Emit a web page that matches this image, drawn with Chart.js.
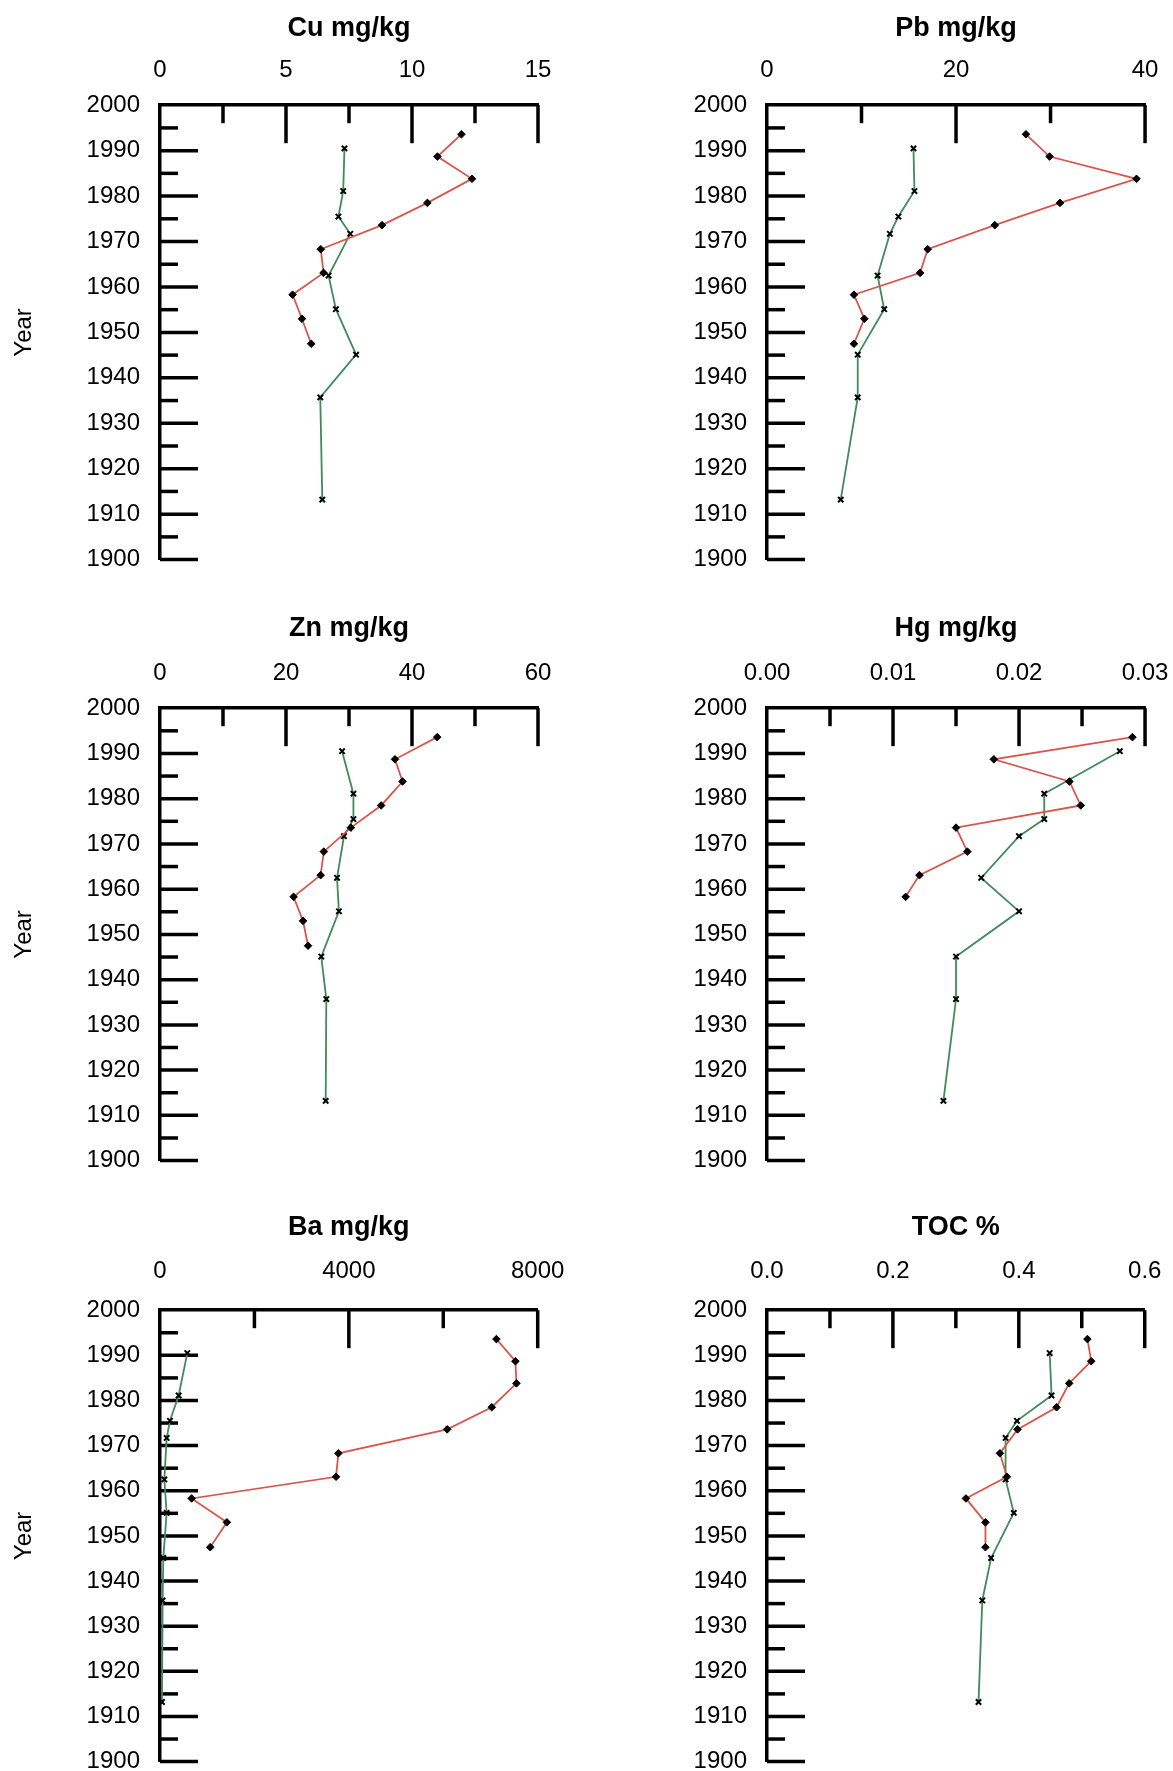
<!DOCTYPE html>
<html>
<head>
<meta charset="utf-8">
<script src="https://cdn.jsdelivr.net/npm/chart.js@4.4.1/dist/chart.umd.min.js"></script>
<style>
  html, body { margin: 0; padding: 0; background: #fff; overflow: hidden; }
  #page { position: relative; width: 1173px; height: 1771px; overflow: hidden; }
  #page canvas { position: absolute; }
</style>
</head>
<body>
<div id="page"></div>
<script>
// sampling years of the two cores (red = diamonds, green = crosses)
const redYears = [1993.6, 1988.7, 1983.8, 1978.5, 1973.6, 1968.3, 1963.1, 1958.3, 1953.0, 1947.5];
const greenYears = [1990.5, 1981.1, 1975.5, 1971.7, 1962.5, 1955.1, 1945.1, 1935.7, 1913.2];
const yearTicks = [2000, 1990, 1980, 1970, 1960, 1950, 1940, 1930, 1920, 1910, 1900];

const cuRed = [11.96, 11.01, 12.38, 10.61, 8.81, 6.38, 6.49, 5.26, 5.63, 6.0];
const cuGreen = [7.32, 7.27, 7.08, 7.55, 6.69, 6.98, 7.78, 6.36, 6.44];
const cuTicks = [0, 5, 10, 15];

const pbRed = [27.4, 29.9, 39.1, 31.0, 24.1, 17.0, 16.2, 9.2, 10.3, 9.2];
const pbGreen = [15.5, 15.6, 13.9, 13.0, 11.7, 12.4, 9.6, 9.6, 7.8];
const pbTicks = [0, 20, 40];

const znRed = [44.0, 37.3, 38.5, 35.1, 30.3, 26.0, 25.5, 21.2, 22.7, 23.5];
const znGreen = [28.9, 30.7, 30.7, 29.2, 28.1, 28.4, 25.6, 26.4, 26.3];
const znTicks = [0, 20, 40, 60];

const hgRed = [0.0290, 0.0180, 0.0240, 0.0249, 0.0150, 0.0159, 0.0121, 0.0110];
const hgGreen = [0.0280, 0.0220, 0.0220, 0.0200, 0.0170, 0.0200, 0.0150, 0.0150, 0.0140];
const hgTicks = [0, 0.01, 0.02, 0.03];

const baRed = [7126, 7528, 7549, 7027, 6083, 3778, 3729, 670, 1417, 1064];
const baGreen = [578, 395, 211, 141, 92, 141, 70, 56, 42];
const baTicks = [0, 4000, 8000];

const tocRed = [0.509, 0.515, 0.480, 0.460, 0.398, 0.370, 0.381, 0.316, 0.347, 0.347];
const tocGreen = [0.449, 0.452, 0.397, 0.379, 0.379, 0.392, 0.356, 0.342, 0.336];
const tocTicks = [0, 0.2, 0.4, 0.6];

const FONT = "'Liberation Sans', Arial, sans-serif";
Chart.defaults.font.family = FONT;
Chart.defaults.color = "#000";

const panels = [
    { title: "Cu mg/kg", ticks: cuTicks, dec: 0, red: cuRed, green: cuGreen, col: 0, row: 0 },
    { title: "Pb mg/kg", ticks: pbTicks, dec: 0, red: pbRed, green: pbGreen, col: 1, row: 0 },
    { title: "Zn mg/kg", ticks: znTicks, dec: 0, red: znRed, green: znGreen, col: 0, row: 1 },
    { title: "Hg mg/kg", ticks: hgTicks, dec: 2, red: hgRed, green: hgGreen, col: 1, row: 1 },
    { title: "Ba mg/kg", ticks: baTicks, dec: 0, red: baRed, green: baGreen, col: 0, row: 2 },
    { title: "TOC %", ticks: tocTicks, dec: 1, red: tocRed, green: tocGreen, col: 1, row: 2 }
];

// where each plot area should land on the page
const areaLeft = [160, 767];
const areaTop = [105, 708.5, 1310.5];
const areaHeight = [454, 452, 451];
const titleGap = [77, 80, 83];       // title centre to top axis
const labelPad = [20.6, 20.6, 24.6]; // top tick labels to axis
const AREA_W = 378;
const AXIS_W = 160;
const TITLE_SIZE = 27;

function midpoints(values) {
    const s = [...values].sort((a, b) => a - b);
    const out = [];
    for (let i = 1; i < s.length; i++) out.push((s[i - 1] + s[i]) / 2);
    return out;
}

function toPoints(xs, ys) {
    return xs.map((v, i) => ({ x: v, y: ys[i] }));
}

// tick marks point into the plot: long at labelled values, short halfway between
const insideTicks = {
    id: "insideTicks",
    beforeDatasetsDraw(chart, args, opts) {
        const ctx = chart.ctx;
        const area = chart.chartArea;
        const xs = chart.scales.x;
        const ys = chart.scales.y;
        ctx.save();
        ctx.strokeStyle = "#000";
        ctx.lineWidth = 3.5;
        ctx.lineCap = "butt";
        const seg = (x1, y1, x2, y2) => {
            ctx.beginPath();
            ctx.moveTo(x1, y1);
            ctx.lineTo(x2, y2);
            ctx.stroke();
        };
        opts.xLong.forEach(v => {
            const px = xs.getPixelForValue(v);
            seg(px, area.top, px, area.top + 38);
        });
        opts.xShort.forEach(v => {
            const px = xs.getPixelForValue(v);
            seg(px, area.top, px, area.top + 18);
        });
        opts.yLong.forEach(v => {
            const py = ys.getPixelForValue(v);
            seg(area.left, py, area.left + 38, py);
        });
        opts.yShort.forEach(v => {
            const py = ys.getPixelForValue(v);
            seg(area.left, py, area.left + 18, py);
        });
        ctx.restore();
    }
};

function makeChart(canvas, p, titlePadBottom, padRight) {
    const xMin = p.ticks[0];
    const xMax = p.ticks[p.ticks.length - 1];
    return new Chart(canvas, {
        type: "scatter",
        data: {
            datasets: [
                {
                    data: toPoints(p.red, redYears),
                    showLine: true,
                    borderColor: "#d8574c",
                    borderWidth: 1.8,
                    tension: 0,
                    pointStyle: "rectRot",
                    pointRadius: 3.8,
                    pointBackgroundColor: "#000",
                    pointBorderColor: "#000",
                    pointBorderWidth: 1,
                    clip: false
                },
                {
                    data: toPoints(p.green, greenYears),
                    showLine: true,
                    borderColor: "#3f8c58",
                    borderWidth: 1.8,
                    tension: 0,
                    pointStyle: "crossRot",
                    pointRadius: 3.8,
                    pointBorderColor: "#000",
                    pointBorderWidth: 2,
                    clip: false
                }
            ]
        },
        options: {
            responsive: false,
            maintainAspectRatio: false,
            animation: false,
            layout: { padding: { left: 0, top: 0, right: padRight, bottom: 4 } },
            plugins: {
                legend: { display: false },
                tooltip: { enabled: false },
                title: {
                    display: true,
                    text: p.title,
                    fullSize: false,
                    font: { size: TITLE_SIZE, weight: "bold", family: FONT },
                    color: "#000",
                    padding: { top: 0, bottom: titlePadBottom }
                },
                insideTicks: {
                    xLong: p.ticks.slice(1),
                    xShort: midpoints(p.ticks),
                    yLong: yearTicks.slice(1),
                    yShort: midpoints(yearTicks)
                }
            },
            scales: {
                x: {
                    type: "linear",
                    position: "top",
                    min: xMin,
                    max: xMax,
                    afterBuildTicks: s => { s.ticks = p.ticks.map(v => ({ value: v })); },
                    grid: { display: false, drawTicks: false },
                    border: { display: true, color: "#000", width: 3.5 },
                    ticks: {
                        font: { size: 24 },
                        padding: labelPad[p.row],
                        maxRotation: 0,
                        autoSkip: false,
                        callback: v => Number(v).toFixed(p.dec)
                    }
                },
                y: {
                    type: "linear",
                    min: 1900,
                    max: 2000,
                    afterBuildTicks: s => { s.ticks = yearTicks.map(v => ({ value: v })); },
                    afterFit: s => { s.width = AXIS_W; },
                    grid: { display: false, drawTicks: false },
                    border: { display: true, color: "#000", width: 3.5 },
                    ticks: {
                        font: { size: 24 },
                        padding: 20,
                        autoSkip: false,
                        callback: v => String(v)
                    },
                    title: {
                        display: p.col === 0,
                        text: "Year",
                        font: { size: 24 },
                        padding: { top: 10, bottom: 0 }
                    }
                }
            }
        },
        plugins: [insideTicks]
    });
}

function buildPanel(p) {
    const padRight = p.col === 0 ? 40 : 26;
    const canvas = document.createElement("canvas");
    document.getElementById("page").appendChild(canvas);

    let w = AXIS_W + AREA_W + padRight;
    let h = 560;
    let pad = 10;
    canvas.width = w;
    canvas.height = h;

    // first pass: measure the layout Chart.js picks, then correct it
    let chart = makeChart(canvas, p, pad, padRight);
    let a = chart.chartArea;
    const tb = chart.titleBlock;
    const titleCentre = tb.top + TITLE_SIZE * 1.2 / 2;
    const shift = titleGap[p.row] - (a.top - titleCentre);
    const growH = areaHeight[p.row] - (a.bottom - a.top);
    const growW = AREA_W - (a.right - a.left);
    chart.destroy();

    pad += shift;
    h = Math.round(h + shift + growH);
    w = Math.round(w + growW);
    canvas.width = w;
    canvas.height = h;
    chart = makeChart(canvas, p, pad, padRight);
    a = chart.chartArea;

    canvas.style.left = (areaLeft[p.col] - a.left) + "px";
    canvas.style.top = (areaTop[p.row] - a.top) + "px";
}

panels.forEach(buildPanel);
</script>
</body>
</html>
